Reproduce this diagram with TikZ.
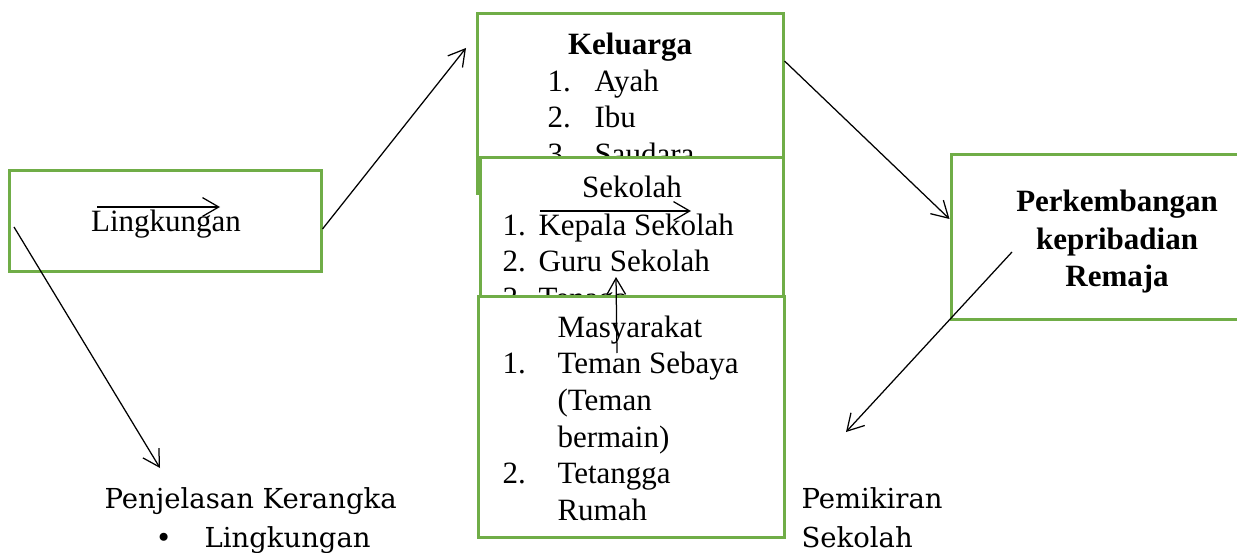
\documentclass[tikz,border=0pt]{standalone}
\usepackage{fontspec}
\setmainfont{Liberation Serif}
\newfontfamily\notefont{DejaVu Serif}
\usetikzlibrary{arrows.meta}
\definecolor{Leaf}{HTML}{70AD47}

\begin{document}
\begin{tikzpicture}[x=0.4pt,y=-0.4pt,
    box/.style={draw=Leaf,line width=1.2pt,fill=white,inner sep=0pt},
    txt/.style={inner sep=0pt,font=\fontsize{12.4}{14.4}\selectfont},
    note/.style={inner sep=0pt,font=\notefont\fontsize{11}{13}\selectfont},
    link/.style={-{Straight Barb[length=6.5pt,width=7.5pt]},line width=0.5pt}]
    \useasboundingbox (0,0) rectangle (1237,552);

    % Lingkungan
    \node[box,minimum width=124.4pt,minimum height=40pt] (lingk) at (165.5,221) {};
    \node[txt,anchor=base] (lingkTxt) at (166,232) {Lingkungan};

    % Keluarga
    \node[box,minimum width=122.4pt,minimum height=71.6pt] (kel) at (630,103.5) {};
    \node[txt,anchor=base,font=\fontsize{12.4}{14.4}\selectfont\bfseries] (kelTtl) at (630,55) {Keluarga};
    \node[txt,anchor=base west] (kelNa) at (547,92) {1.};
    \node[txt,anchor=base west] (kelA) at (594,92) {Ayah};
    \node[txt,anchor=base west] (kelNb) at (547,128) {2.};
    \node[txt,anchor=base west] (kelB) at (594,128) {Ibu};
    \node[txt,anchor=base west] (kelNc) at (547,165) {3.};
    \node[txt,anchor=base west] (kelC) at (594,165) {Saudara};

    % Sekolah
    \node[box,minimum width=121.2pt,minimum height=55.6pt] (sek) at (631.5,227.5) {};
    \node[txt,anchor=base] (sekTtl) at (632,198) {Sekolah};
    \node[txt,anchor=base west] (sekNa) at (502,235) {1.};
    \node[txt,anchor=base west] (sekA) at (538,235) {Kepala Sekolah};
    \node[txt,anchor=base west] (sekNb) at (502,272) {2.};
    \node[txt,anchor=base west] (sekB) at (538,272) {Guru Sekolah};
    \node[txt,anchor=base west] (sekNc) at (502,308) {3.};
    \node[txt,anchor=base west] (sekC) at (538,308) {Tenaga};

    % Masyarakat
    \node[box,minimum width=122.4pt,minimum height=96pt] (mas) at (631,417) {};
    \node[txt,anchor=base west] (masTtl) at (557,337) {Masyarakat};
    \node[txt,anchor=base west] (masNa) at (502,373) {1.};
    \node[txt,anchor=base west] (masA) at (557,373) {Teman Sebaya};
    \node[txt,anchor=base west] (masAb) at (557,410) {(Teman};
    \node[txt,anchor=base west] (masAc) at (557,447) {bermain)};
    \node[txt,anchor=base west] (masNb) at (502,483) {2.};
    \node[txt,anchor=base west] (masB) at (557,483) {Tetangga};
    \node[txt,anchor=base west] (masBb) at (557,520) {Rumah};

    % Perkembangan
    \node[box,minimum width=123.6pt,minimum height=65.6pt] (perk) at (1105.5,237) {};
    \node[txt,anchor=base,font=\fontsize{12.4}{14.4}\selectfont\bfseries] (perkA) at (1117,212) {Perkembangan};
    \node[txt,anchor=base,font=\fontsize{12.4}{14.4}\selectfont\bfseries] (perkB) at (1117,250) {kepribadian};
    \node[txt,anchor=base,font=\fontsize{12.4}{14.4}\selectfont\bfseries] (perkC) at (1117,286) {Remaja};

    % Notes below
    \node[note,anchor=base west] (penj) at (104,508) {Penjelasan Kerangka};
    \node[note,anchor=base west] (bul) at (155,547) {\textbullet};
    \node[note,anchor=base west] (penjL) at (204,547) {Lingkungan};
    \node[note,anchor=base west] (pem) at (801,508) {Pemikiran};
    \node[note,anchor=base west] (pemS) at (801,547) {Sekolah};

    % Free ends
    \coordinate (lingkL) at (97,207);
    \coordinate (lingkR) at (220,207);
    \coordinate (sekL) at (540,211);
    \coordinate (sekR) at (691,211);
    \coordinate (masUp) at (617,353);
    \coordinate (sekUp) at (616,277);
    \coordinate (lingkOut) at (14,227);
    \coordinate (penjIn) at (160,468);
    \coordinate (kelIn) at (466,48);
    \coordinate (perkOut) at (1012,252);
    \coordinate (pemIn) at (846,432);

    % Arrows
    \draw[link] (lingkL) -- (lingkR);
    \draw[link] (sekL) -- (sekR);
    \draw[link] (masUp) -- (sekUp);
    \draw[link] (lingkOut) -- (penjIn);
    \draw[link] ([yshift=-3.2pt]lingk.east) -- (kelIn);
    \draw[link] ([yshift=17pt]kel.east) -- ([yshift=7.2pt]perk.west);
    \draw[link] (perkOut) -- (pemIn);
\end{tikzpicture}
\end{document}
